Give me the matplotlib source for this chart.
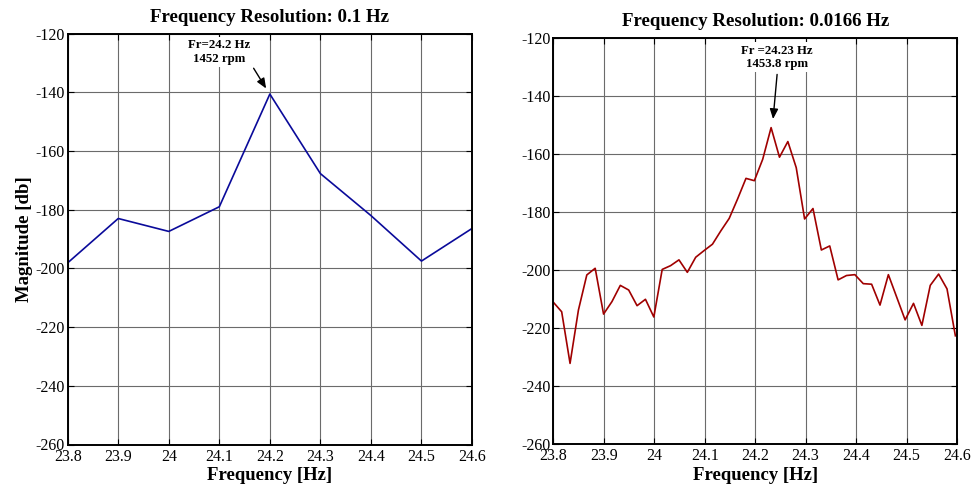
import numpy as np
import matplotlib
matplotlib.use("Agg")
import matplotlib.pyplot as plt

plt.rcParams['font.family'] = ['Liberation Serif', 'DejaVu Serif']
plt.rcParams['axes.unicode_minus'] = False

# Coarse spectrum (0.1 Hz bins)
freq_coarse = [23.8, 23.9, 24.0, 24.1, 24.2, 24.3, 24.4, 24.5, 24.6]
mag_coarse = [-198.1, -183.0, -187.4, -179.0, -140.6, -167.7, -182.0, -197.5, -186.4]

# Fine spectrum (0.0166 Hz bins starting at 23.8 Hz)
fine_step = 0.0166
fine_start = 23.8
mag_fine = [-211.0, -214.3, -232.1, -213.7, -201.6, -199.3, -215.1, -210.8,
            -205.2, -206.8, -212.2, -210.0, -216.1, -199.7, -198.4, -196.4,
            -200.7, -195.5, -193.2, -191.0, -186.4, -182.1, -175.4, -168.3,
            -169.1, -161.7, -150.8, -161.0, -155.6, -164.6, -182.3, -178.7,
            -193.0, -191.6, -203.3, -201.8, -201.5, -204.6, -204.8, -212.0,
            -201.5, -209.3, -217.1, -211.4, -219.0, -205.2, -201.3, -206.4,
            -222.6]
freq_fine = [fine_start + i * fine_step for i in range(len(mag_fine))]

x_ticks = [23.8, 23.9, 24.0, 24.1, 24.2, 24.3, 24.4, 24.5, 24.6]
x_tick_labels = ['23.8', '23.9', '24', '24.1', '24.2', '24.3', '24.4', '24.5', '24.6']
y_ticks = [-260, -240, -220, -200, -180, -160, -140, -120]

titles = ['Frequency Resolution: 0.1 Hz', 'Frequency Resolution: 0.0166 Hz']
notes = ['Fr=24.2 Hz\n1452 rpm', 'Fr =24.23 Hz\n1453.8 rpm']

W, H = 972, 484
fig = plt.figure(figsize=(W / 100, H / 100), dpi=100)


def px_axes(x0, y0, x1, y1):
    return fig.add_axes([x0 / W, 1 - y1 / H, (x1 - x0) / W, (y1 - y0) / H])


ax1 = px_axes(67.7, 33.6, 472.0, 444.5)
ax2 = px_axes(553.3, 38.3, 957.0, 444.3)

ax1.plot(freq_coarse, mag_coarse, color='#0a0a9a', lw=1.2, zorder=3)
ax2.plot(freq_fine, mag_fine, color='#a00000', lw=1.2, zorder=3)

for ax, title in zip((ax1, ax2), titles):
    ax.set_xlim(23.8, 24.6)
    ax.set_ylim(-260, -120)
    ax.set_xticks(x_ticks)
    ax.set_xticklabels(x_tick_labels)
    ax.set_yticks(y_ticks)
    ax.grid(True, color='0.42', lw=0.8, zorder=0)
    ax.set_axisbelow(True)
    ax.tick_params(direction='in', top=True, right=True, length=4,
                   labelsize=11.5, colors='black', pad=2)
    ax.tick_params(axis='x', pad=3)
    for s in ax.spines.values():
        s.set_linewidth(1.4)
        s.set_zorder(4)
    ax.set_title(title, fontsize=13.6, fontweight='bold', pad=8.5)
    ax.set_xlabel('Frequency [Hz]', fontsize=13.5, fontweight='bold', labelpad=2.0)

ax1.set_ylabel('Magnitude [db]', fontsize=13.5, fontweight='bold', labelpad=1.5)

box = dict(facecolor='white', edgecolor='none', pad=1.5)
arrow = dict(arrowstyle='-|>,head_length=0.6,head_width=0.25', color='black', lw=1.0)

ax1.text(24.099, -126.3, notes[0], ha='center', va='center', fontsize=9.3,
         fontweight='bold', bbox=box, zorder=5, linespacing=1.2)
ax1.annotate('', xy=(24.1955, -139.5), xytext=(24.165, -131.0),
             arrowprops=arrow, zorder=5)

ax2.text(24.243, -126.6, notes[1], ha='center', va='center', fontsize=9.3,
         fontweight='bold', bbox=box, zorder=5, linespacing=1.2)
ax2.annotate('', xy=(24.235, -148.8), xytext=(24.244, -131.5),
             arrowprops=arrow, zorder=5)

fig.savefig('out.png', dpi=100)
